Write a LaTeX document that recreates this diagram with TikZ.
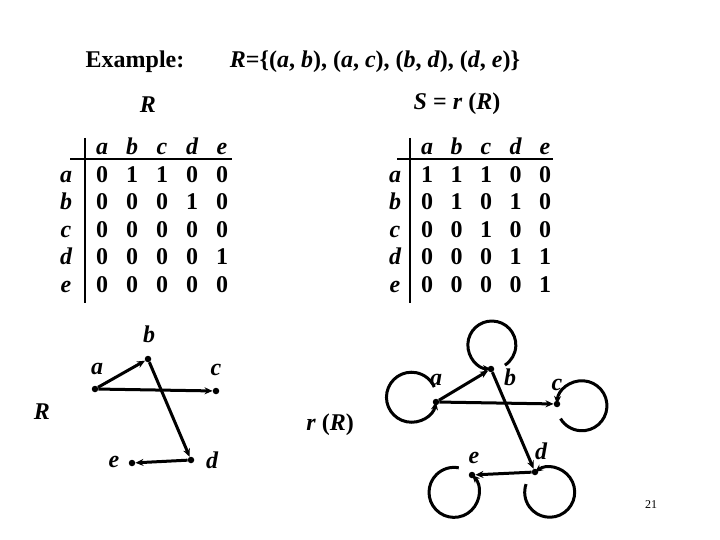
\documentclass[tikz,border=0pt]{standalone}
\usepackage{fontspec}
\setmainfont{Liberation Serif}
\usetikzlibrary{arrows.meta}

\tikzset{
  title/.style={font=\fontsize{24}{28}\selectfont\bfseries},
  ent/.style={font=\fontsize{24}{28}\selectfont\bfseries,anchor=base},
  ment/.style={font=\fontsize{24}{28}\selectfont\bfseries\itshape,anchor=base},
  lbl/.style={font=\fontsize{24}{28}\selectfont\bfseries\itshape},
  vtx/.style={circle,fill,inner sep=0pt,minimum size=6.5pt},
  edg/.style={line width=3pt,-{Stealth[length=8pt,width=7pt]}},
  selfloop/.style={line width=3pt,{Stealth[length=8pt,width=7pt]}-},
  rule/.style={line width=1.4pt},
}

\begin{document}
\begin{tikzpicture}[x=1pt,y=-1pt]
  \useasboundingbox (0,0) rectangle (720,540);

  % headings
  \node[title] (ex) at (135,62) {Example:};
  \node[title] (rel) at (375,62) {\textit{R}=\{(\textit{a}, \textit{b}), (\textit{a}, \textit{c}), (\textit{b}, \textit{d}), (\textit{d}, \textit{e})\}};
  \node[title] (nameR) at (148,105) {\textit{R}};
  \node[title] (nameS) at (457,104) {\textit{S} = \textit{r} (\textit{R})};

  % matrix of R
  \foreach \c [count=\j] in {a,b,c,d,e} {
    \node[ment] (Lh\j) at ({102+30*(\j-1)},154.5) {\c};
    \node[ment] (Lr\j) at (66,{182.1+27.6*(\j-1)}) {\c};
  }
  \foreach \v [count=\j] in {0,1,1,0,0} \node[ent] (L1\j) at ({102+30*(\j-1)},182.1) {\v};
  \foreach \v [count=\j] in {0,0,0,1,0} \node[ent] (L2\j) at ({102+30*(\j-1)},209.7) {\v};
  \foreach \v [count=\j] in {0,0,0,0,0} \node[ent] (L3\j) at ({102+30*(\j-1)},237.3) {\v};
  \foreach \v [count=\j] in {0,0,0,0,1} \node[ent] (L4\j) at ({102+30*(\j-1)},264.9) {\v};
  \foreach \v [count=\j] in {0,0,0,0,0} \node[ent] (L5\j) at ({102+30*(\j-1)},292.5) {\v};
  \draw[rule] (85,138) -- (85,303);
  \draw[rule] (70,159) -- (232,159);

  % matrix of S
  \foreach \c [count=\j] in {a,b,c,d,e} {
    \node[ment] (Rh\j) at ({427+29.5*(\j-1)},154.5) {\c};
    \node[ment] (Rr\j) at (395,{182.1+27.6*(\j-1)}) {\c};
  }
  \foreach \v [count=\j] in {1,1,1,0,0} \node[ent] (R1\j) at ({427+29.5*(\j-1)},182.1) {\v};
  \foreach \v [count=\j] in {0,1,0,1,0} \node[ent] (R2\j) at ({427+29.5*(\j-1)},209.7) {\v};
  \foreach \v [count=\j] in {0,0,1,0,0} \node[ent] (R3\j) at ({427+29.5*(\j-1)},237.3) {\v};
  \foreach \v [count=\j] in {0,0,0,1,1} \node[ent] (R4\j) at ({427+29.5*(\j-1)},264.9) {\v};
  \foreach \v [count=\j] in {0,0,0,0,1} \node[ent] (R5\j) at ({427+29.5*(\j-1)},292.5) {\v};
  \draw[rule] (410,138) -- (410,303);
  \draw[rule] (397,159) -- (553,159);

  % graph of R
  \node[vtx] (La) at (95,389) {};
  \node[vtx] (Lb) at (148,359) {};
  \node[vtx] (Lc) at (216,391) {};
  \node[vtx] (Ld) at (191,460) {};
  \node[vtx] (Le) at (132,463) {};
  \node[lbl] (Lta) at (97,369) {a};
  \node[lbl] (Ltb) at (149,334) {b};
  \node[lbl] (Ltc) at (216,370) {c};
  \node[lbl] (Ltd) at (212,460) {d};
  \node[lbl] (Lte) at (114,462) {e};
  \node[lbl] (gR) at (42,412) {R};
  \draw[edg] (La) -- (Lb);
  \draw[edg] (La) -- (Lc);
  \draw[edg] (Lb) -- (Ld);
  \draw[edg] (Ld) -- (Le);

  % graph of r(R)
  \node[vtx] (ra) at (436,402) {};
  \node[vtx] (rb) at (491,369) {};
  \node[vtx] (rc) at (557,404) {};
  \node[vtx] (rd) at (535,472) {};
  \node[vtx] (re) at (472,475) {};
  \node[lbl] (rta) at (436,380) {a};
  \node[lbl] (rtb) at (510,377) {b};
  \node[lbl] (rtc) at (557,385) {c};
  \node[lbl] (rtd) at (541,451) {d};
  \node[lbl] (rte) at (474,458) {e};
  \node[title] (grR) at (330,425) {\textit{r} (\textit{R})};
  \draw[edg] (ra) -- (rb);
  \draw[edg] (ra) -- (rc);
  \draw[edg] (rb) -- (rd);
  \draw[edg] (rd) -- (re);
  \draw[selfloop] (ra.center) arc[start angle=11, delta angle=325, radius=25];
  \draw[selfloop] (rb.center) arc[start angle=92, delta angle=325, radius=24];
  \draw[selfloop] (rc.center) arc[start angle=184, delta angle=325, radius=25];
  \draw[selfloop] (rd.center) arc[start angle=234, delta angle=325, radius=25];
  \draw[selfloop] (re.center) arc[start angle=316, delta angle=325, radius=25];

  \node[font=\fontsize{12}{14}\selectfont] (pg) at (651,505) {21};
\end{tikzpicture}
\end{document}
